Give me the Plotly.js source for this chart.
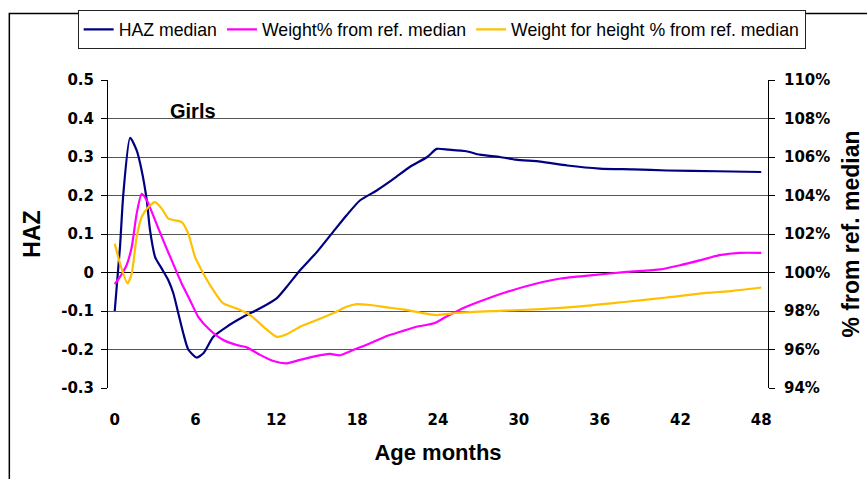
<!DOCTYPE html>
<html>
<head>
<meta charset="utf-8">
<script src="https://cdn.plot.ly/plotly-3.0.1.min.js"></script>
<style>
html,body{margin:0;padding:0;background:#fff;}
#chart{width:867px;height:479px;}
</style>
</head>
<body>
<div id="chart"></div>
<script>
// ---- data ----
var seriesNames = ['HAZ median', 'Weight% from ref. median', 'Weight for height % from ref. median'];

var ageHAZ = [0, 0.39, 0.64, 1.14, 1.63, 2.0, 2.38, 2.62, 3.0, 3.49, 3.98, 4.35, 4.72, 5.09, 5.46, 6.08, 6.58, 7.32, 8.31, 9.55, 10.79, 12.02, 12.77, 13.76, 15.0, 16.2, 17.2, 18.2, 19.45, 20.7, 21.9, 23.2, 23.9, 24.8, 26.1, 27.1, 28.6, 29.8, 31.6, 33.6, 36.0, 38.5, 41.0, 44.7, 48.0];
var haz = [-0.10, 0.066, 0.205, 0.35, 0.317, 0.265, 0.187, 0.11, 0.04, 0.01, -0.02, -0.054, -0.106, -0.158, -0.20, -0.221, -0.21, -0.167, -0.141, -0.115, -0.093, -0.067, -0.037, 0.006, 0.053, 0.105, 0.148, 0.187, 0.213, 0.243, 0.274, 0.30, 0.321, 0.319, 0.315, 0.306, 0.30, 0.293, 0.288, 0.278, 0.27, 0.268, 0.265, 0.263, 0.261];

var ageW = [0, 0.39, 0.88, 1.26, 1.63, 2.0, 2.38, 3.0, 3.6, 4.22, 4.97, 5.59, 6.2, 7.07, 8.06, 9.06, 9.8, 10.79, 11.78, 12.77, 13.76, 14.75, 15.98, 16.7, 17.7, 18.97, 20.2, 21.2, 22.4, 23.7, 24.6, 26.1, 27.9, 29.1, 31.1, 33.1, 35.5, 38.0, 40.5, 42.0, 43.5, 44.9, 46.4, 48.0];
var weightPct = [99.4, 99.77, 100.38, 101.33, 103.06, 104.09, 103.75, 102.71, 101.67, 100.64, 99.43, 98.56, 97.70, 97.01, 96.49, 96.23, 96.11, 95.72, 95.40, 95.28, 95.46, 95.63, 95.77, 95.70, 95.97, 96.32, 96.70, 96.92, 97.18, 97.36, 97.70, 98.22, 98.70, 98.99, 99.39, 99.69, 99.86, 100.03, 100.16, 100.38, 100.64, 100.90, 101.02, 101.02];

var ageWfH = [0, 0.39, 0.95, 1.26, 1.63, 2.0, 2.5, 3.0, 3.49, 3.98, 4.48, 4.97, 5.46, 5.96, 6.58, 7.32, 8.06, 9.06, 10.05, 11.04, 12.03, 12.77, 13.76, 15.0, 16.2, 17.2, 17.97, 18.97, 20.2, 21.4, 22.7, 23.9, 25.6, 28.6, 31.6, 34.8, 38.0, 41.0, 43.9, 45.9, 48.0];
var wfhPct = [101.5, 100.47, 99.43, 99.95, 101.84, 102.88, 103.4, 103.66, 103.32, 102.8, 102.71, 102.62, 102.02, 100.81, 99.95, 99.08, 98.39, 98.13, 97.79, 97.18, 96.66, 96.79, 97.18, 97.53, 97.88, 98.22, 98.36, 98.31, 98.19, 98.08, 97.91, 97.79, 97.91, 98.01, 98.1, 98.25, 98.48, 98.7, 98.94, 99.05, 99.22];

var ageTicks = [0, 6, 12, 18, 24, 30, 36, 42, 48];
var ageTickText = ['0', '6', '12', '18', '24', '30', '36', '42', '48'];
var hazTicks = [-0.3, -0.2, -0.1, 0, 0.1, 0.2, 0.3, 0.4, 0.5];
var hazTickText = ['-0.3', '-0.2', '-0.1', '0', '0.1', '0.2', '0.3', '0.4', '0.5'];
var pctTicks = [94, 96, 98, 100, 102, 104, 106, 108, 110];
var pctTickText = ['94%', '96%', '98%', '100%', '102%', '104%', '106%', '108%', '110%'];

var colors = ['#000080', '#FF00FF', '#FFC000'];

var tickFont = {family: 'DejaVu Sans, Verdana, sans-serif', size: 15, color: '#000', weight: 'bold'};
var titleFont = {family: 'Liberation Sans, Arial, sans-serif', size: 22, color: '#000', weight: 'bold'};

var traces = [
  {x: ageHAZ, y: haz, name: seriesNames[0], type: 'scatter', mode: 'lines',
   line: {color: colors[0], width: 2.2, shape: 'spline', smoothing: 0.6}, yaxis: 'y'},
  {x: ageW, y: weightPct, name: seriesNames[1], type: 'scatter', mode: 'lines',
   line: {color: colors[1], width: 2.2, shape: 'spline', smoothing: 0.6}, yaxis: 'y2'},
  {x: ageWfH, y: wfhPct, name: seriesNames[2], type: 'scatter', mode: 'lines',
   line: {color: colors[2], width: 2.2, shape: 'spline', smoothing: 0.6}, yaxis: 'y2'}
];

var layout = {
  width: 867, height: 479, autosize: false,
  margin: {l: 108, r: 99, t: 79, b: 91, pad: 0},
  paper_bgcolor: '#fff', plot_bgcolor: '#fff',
  showlegend: true,
  legend: {
    orientation: 'h', x: -0.046, xanchor: 'left', y: 1.222, yanchor: 'top',
    bgcolor: '#fff', bordercolor: '#222', borderwidth: 1,
    font: {family: 'Liberation Sans, Arial, sans-serif', size: 17.7, color: '#000'},
    traceorder: 'normal'
  },
  xaxis: {
    range: [-0.5, 48.5], tickvals: ageTicks, ticktext: ageTickText,
    showgrid: false, zeroline: false, showline: false,
    ticks: 'outside', ticklen: 18, tickcolor: 'rgba(0,0,0,0)',
    tickfont: tickFont, fixedrange: true,
    title: {text: 'Age months', font: titleFont, standoff: 16}
  },
  yaxis: {
    range: [-0.3, 0.5], tickvals: hazTicks, ticktext: hazTickText,
    showgrid: true, gridcolor: '#555', gridwidth: 1,
    zeroline: true, zerolinecolor: '#000', zerolinewidth: 1.6,
    showline: true, linecolor: '#000', linewidth: 1,
    ticks: 'outside', ticklen: 6, tickcolor: '#000',
    ticklabelstandoff: 4,
    tickfont: tickFont, fixedrange: true,
    title: {text: 'HAZ', font: {family: 'Liberation Sans, Arial, sans-serif', size: 23, color: '#000', weight: 'bold'}, standoff: 14}
  },
  yaxis2: {
    range: [94, 110], tickvals: pctTicks, ticktext: pctTickText,
    overlaying: 'y', side: 'right',
    showgrid: false, zeroline: false,
    showline: true, linecolor: '#000', linewidth: 1,
    ticks: 'outside', ticklen: 6, tickcolor: '#000',
    ticklabelstandoff: 6,
    tickfont: tickFont, fixedrange: true,
    title: {text: '% from ref. median', font: {family: 'Liberation Sans, Arial, sans-serif', size: 23, color: '#000', weight: 'bold'}, standoff: 13}
  },
  annotations: [
    {text: 'Girls', xref: 'x', yref: 'y', x: 5.8, y: 0.42, showarrow: false,
     font: {family: 'Liberation Sans, Arial, sans-serif', size: 20, color: '#000', weight: 'bold'}}
  ],
  shapes: [
    {type: 'rect', xref: 'paper', yref: 'paper', x0: -0.1495, x1: 1.16, y0: -0.31, y1: 1.216,
     line: {color: '#000', width: 1.5}, fillcolor: 'rgba(0,0,0,0)', layer: 'below'}
  ]
};

Plotly.newPlot('chart', traces, layout, {displayModeBar: false, staticPlot: true});
</script>
</body>
</html>
